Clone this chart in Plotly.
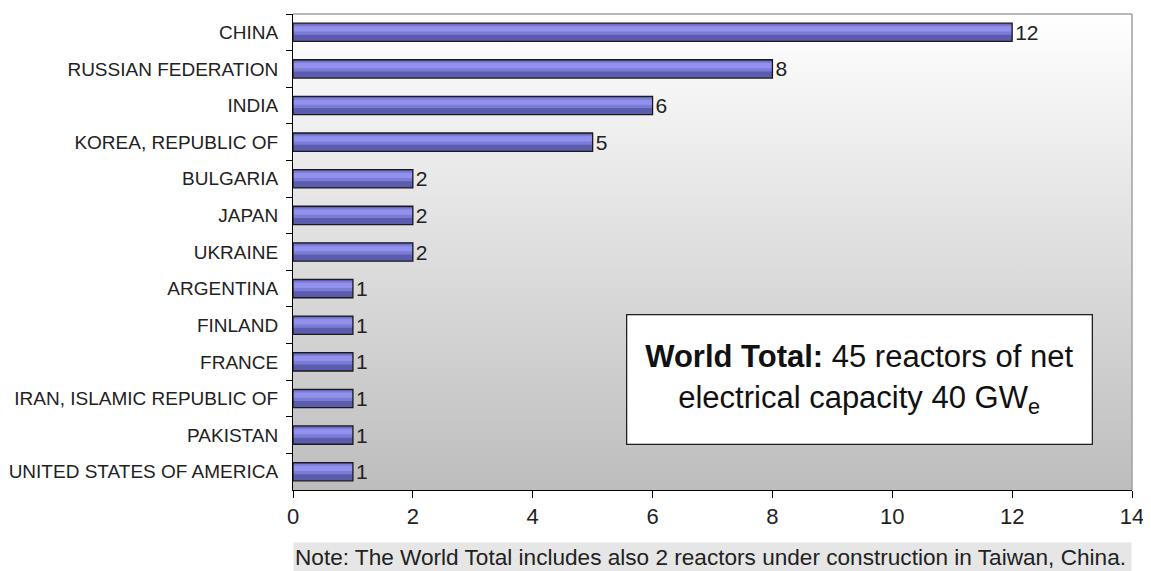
import base64
import plotly.graph_objects as go

# Reactors under construction by country
countries = [
    'CHINA', 'RUSSIAN FEDERATION', 'INDIA', 'KOREA, REPUBLIC OF', 'BULGARIA',
    'JAPAN', 'UKRAINE', 'ARGENTINA', 'FINLAND', 'FRANCE',
    'IRAN, ISLAMIC REPUBLIC OF', 'PAKISTAN', 'UNITED STATES OF AMERICA',
]
reactors = [12, 8, 6, 5, 2, 2, 2, 1, 1, 1, 1, 1, 1]
x_ticks = [0, 2, 4, 6, 8, 10, 12, 14]

FONT = 'Liberation Sans, Arial, sans-serif'

# vertical white -> gray gradient for the plot area (Excel style)
bg_svg = (
    '<svg xmlns="http://www.w3.org/2000/svg" width="100" height="100" preserveAspectRatio="none">'
    '<defs><linearGradient id="g" x1="0" y1="0" x2="0" y2="1">'
    '<stop offset="0" stop-color="#ffffff"/><stop offset="1" stop-color="#bdbdbd"/>'
    '</linearGradient></defs><rect width="100" height="100" fill="url(#g)"/></svg>'
)
bg_uri = 'data:image/svg+xml;base64,' + base64.b64encode(bg_svg.encode()).decode()

fig = go.Figure()
# base of the bar (darker shade)
fig.add_trace(go.Bar(
    y=countries, x=reactors, orientation='h', width=0.5,
    marker=dict(color='#5c5cae', line=dict(width=0)),
    hoverinfo='skip',
))
# lighter bands to fake the glossy gradient
fig.add_trace(go.Bar(
    y=countries, x=reactors, orientation='h', width=0.28, offset=-0.21,
    marker=dict(color='#7c7cd6', line=dict(width=0)),
    hoverinfo='skip',
))
fig.add_trace(go.Bar(
    y=countries, x=reactors, orientation='h', width=0.14, offset=-0.16,
    marker=dict(color='#9292ee', line=dict(width=0)),
    hoverinfo='skip',
))
# outline + value labels
fig.add_trace(go.Bar(
    y=countries, x=reactors, orientation='h', width=0.5,
    marker=dict(color='rgba(0,0,0,0)', line=dict(color='#1a1a1a', width=1.3)),
    text=[str(v) for v in reactors],
    textposition='outside',
    constraintext='none',
    cliponaxis=False,
    outsidetextfont=dict(family=FONT, size=21, color='#222222'),
    hoverinfo='x+y',
))

fig.update_layout(
    width=1143,
    height=563,
    margin=dict(l=285, r=19, t=6, b=81),
    barmode='overlay',
    paper_bgcolor='white',
    plot_bgcolor='rgba(0,0,0,0)',
    showlegend=False,
    font=dict(family=FONT, color='#222222'),
    images=[dict(
        source=bg_uri, xref='paper', yref='paper', x=0, y=1,
        sizex=1, sizey=1, sizing='stretch', layer='below',
    )],
    xaxis=dict(
        range=[0, 14],
        tickvals=x_ticks,
        ticks='outside',
        ticklen=7,
        tickcolor='#000000',
        showgrid=False,
        zeroline=False,
        showline=True,
        linecolor='#000000',
        linewidth=1,
        tickfont=dict(size=22, color='#222222'),
        automargin=False,
    ),
    yaxis=dict(
        autorange='reversed',
        ticks='outside',
        tickson='boundaries',
        ticklen=6,
        tickcolor='#000000',
        showgrid=False,
        showline=True,
        linecolor='#000000',
        linewidth=1,
        tickfont=dict(size=19, color='#222222'),
        ticklabelstandoff=10,
        automargin=False,
    ),
    shapes=[
        # plot area border (top/right in gray)
        dict(type='line', xref='paper', yref='paper', x0=0, x1=1, y0=1, y1=1,
             line=dict(color='#a0a0a0', width=1.5)),
        dict(type='line', xref='paper', yref='paper', x0=1, x1=1, y0=0, y1=1,
             line=dict(color='#a0a0a0', width=1.5)),
    ],
    annotations=[
        dict(
            xref='paper', yref='paper', x=0.6758, y=0.2311,
            xanchor='center', yanchor='middle',
            text='<b>World Total:</b> 45 reactors of net<br>electrical capacity 40 GW<sub>e</sub>',
            showarrow=False,
            align='center',
            font=dict(size=31, color='#111111'),
            bgcolor='white',
            bordercolor='#222222',
            borderwidth=1.3,
            width=462,
            height=126,
        ),
        dict(
            xref='paper', yref='paper', x=0, y=-0.1408,
            xanchor='left', yanchor='middle',
            text='Note: The World Total includes also 2 reactors under construction in Taiwan, China.',
            showarrow=False,
            align='left',
            font=dict(size=22.6, color='#222222'),
            bgcolor='#e6e6e6',
            width=835,
            height=26,
        ),
    ],
)

fig.write_html('out.html')
